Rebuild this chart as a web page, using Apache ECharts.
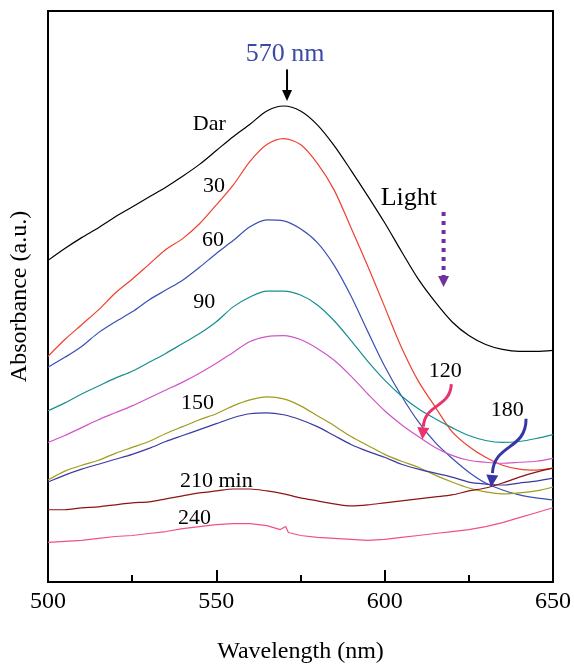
<!DOCTYPE html>
<html>
<head>
<meta charset="utf-8">
<title>UV-Vis absorption spectra</title>
<script src="https://cdn.jsdelivr.net/npm/echarts@6/dist/echarts.min.js"></script>
<style>
  html, body { margin: 0; padding: 0; background: #fff; }
  #chart { width: 574px; height: 669px; }
</style>
</head>
<body>
<div id="chart"></div>
<script>
// Wavelength sampling (nm) shared by most spectra
const wavelengths = [500, 505, 510, 515, 520, 525, 530, 535, 540, 545, 550, 555, 560, 565, 570,
                     575, 580, 585, 590, 595, 600, 605, 610, 615, 620, 625, 630, 635, 640, 645, 650];

// Absorbance (a.u.) after each irradiation time
const absDark = [0.650, 0.674, 0.696, 0.716, 0.738, 0.758, 0.778, 0.798, 0.820, 0.844, 0.872, 0.900, 0.925, 0.952, 0.962,
                 0.952, 0.924, 0.882, 0.832, 0.780, 0.726, 0.668, 0.612, 0.566, 0.526, 0.498, 0.480, 0.470, 0.466, 0.466, 0.468];
const abs30   = [0.456, 0.490, 0.520, 0.550, 0.584, 0.612, 0.642, 0.672, 0.694, 0.724, 0.762, 0.802, 0.850, 0.884, 0.896,
                 0.884, 0.846, 0.792, 0.716, 0.638, 0.556, 0.474, 0.406, 0.354, 0.304, 0.274, 0.252, 0.236, 0.228, 0.226, 0.230];
const abs60   = [0.434, 0.454, 0.476, 0.504, 0.526, 0.546, 0.570, 0.590, 0.610, 0.636, 0.664, 0.690, 0.718, 0.732, 0.730,
                 0.714, 0.686, 0.640, 0.578, 0.506, 0.436, 0.376, 0.324, 0.282, 0.250, 0.222, 0.200, 0.186, 0.176, 0.170, 0.166];
const abs90   = [0.346, 0.362, 0.380, 0.396, 0.412, 0.426, 0.444, 0.462, 0.482, 0.502, 0.526, 0.556, 0.576, 0.588, 0.588,
                 0.580, 0.560, 0.528, 0.488, 0.446, 0.408, 0.376, 0.350, 0.330, 0.312, 0.296, 0.286, 0.282, 0.284, 0.290, 0.298];
const abs120  = [0.282, 0.296, 0.312, 0.328, 0.342, 0.356, 0.372, 0.388, 0.404, 0.422, 0.442, 0.464, 0.486, 0.496, 0.498,
                 0.490, 0.472, 0.448, 0.416, 0.380, 0.346, 0.318, 0.294, 0.272, 0.256, 0.246, 0.242, 0.240, 0.242, 0.244, 0.250];
const abs150  = [0.206, 0.224, 0.236, 0.246, 0.260, 0.272, 0.284, 0.300, 0.314, 0.328, 0.340, 0.356, 0.368, 0.374, 0.370,
                 0.356, 0.336, 0.316, 0.294, 0.276, 0.258, 0.244, 0.232, 0.216, 0.202, 0.190, 0.182, 0.178, 0.180, 0.184, 0.192];
const abs180  = [0.202, 0.216, 0.228, 0.238, 0.248, 0.258, 0.270, 0.284, 0.296, 0.308, 0.320, 0.332, 0.340, 0.342, 0.338,
                 0.328, 0.314, 0.296, 0.278, 0.264, 0.252, 0.238, 0.228, 0.220, 0.212, 0.202, 0.198, 0.196, 0.200, 0.204, 0.210];
const abs210  = [0.146, 0.146, 0.150, 0.152, 0.156, 0.160, 0.162, 0.168, 0.174, 0.180, 0.184, 0.188, 0.188, 0.184, 0.178,
                 0.170, 0.164, 0.158, 0.154, 0.156, 0.160, 0.164, 0.168, 0.172, 0.176, 0.184, 0.190, 0.200, 0.212, 0.222, 0.230];

// The 240 min trace has a small glitch near 571 nm, so it keeps its own sampling
const wavelengths240 = [500, 505, 510, 515, 520, 525, 530, 535, 540, 545, 550, 555, 560, 565, 569, 570.6, 571.4,
                        575, 580, 585, 590, 595, 600, 605, 610, 615, 620, 625, 630, 635, 640, 645, 650];
const abs240  = [0.080, 0.082, 0.084, 0.088, 0.092, 0.094, 0.098, 0.102, 0.108, 0.112, 0.116, 0.118, 0.118, 0.114, 0.106, 0.112, 0.100,
                 0.094, 0.090, 0.088, 0.086, 0.084, 0.086, 0.090, 0.094, 0.098, 0.102, 0.106, 0.112, 0.120, 0.130, 0.140, 0.150];

const xTicks = [500, 550, 600, 650];

const seriesNames  = ['Dark', '30', '60', '90', '120', '150', '180', '210', '240'];
const seriesColors = ['#000000', '#f0402f', '#3b4fb5', '#168f8f', '#d254c8', '#a09c1c', '#3c3aa0', '#8e1414', '#f0508a'];
const seriesValues = [absDark, abs30, abs60, abs90, abs120, abs150, abs180, abs210, abs240];
const seriesX      = [wavelengths, wavelengths, wavelengths, wavelengths, wavelengths, wavelengths, wavelengths, wavelengths, wavelengths240];
const seriesSmooth = [0.3, 0.3, 0.3, 0.3, 0.3, 0.3, 0.3, 0.3, false];

// Curve annotations placed in data space: [text, wavelength, absorbance, size, colour]
const curveLabels = [
  ['Dar',     547.9, 0.926, 22, '#000'],
  ['30',      549.3, 0.800, 22, '#000'],
  ['60',      549.0, 0.690, 22, '#000'],
  ['90',      546.4, 0.566, 22, '#000'],
  ['120',     618.0, 0.426, 22, '#000'],
  ['150',     544.4, 0.362, 22, '#000'],
  ['180',     636.4, 0.348, 22, '#000'],
  ['210 min', 550.0, 0.204, 22, '#000'],
  ['240',     543.5, 0.128, 22, '#000'],
  ['Light',   607.2, 0.776, 26, '#000'],
  ['570 nm',  570.4, 1.066, 26, '#3b4ba5']
];

const SERIF = '"Liberation Serif", "Times New Roman", serif';

const chart = echarts.init(document.getElementById('chart'), null, { renderer: 'canvas' });

chart.setOption({
  animation: false,
  backgroundColor: '#fff',
  grid: {
    left: 46, right: 21, top: 11, bottom: 81,
    show: true, borderColor: '#000', borderWidth: 2, backgroundColor: 'transparent'
  },
  xAxis: {
    type: 'value',
    min: xTicks[0], max: xTicks[xTicks.length - 1], interval: 50,
    name: 'Wavelength (nm)', nameLocation: 'middle', nameGap: 58,
    nameTextStyle: { fontFamily: SERIF, fontSize: 24, color: '#000' },
    axisLine: { show: true, lineStyle: { color: '#000', width: 2 } },
    axisTick: { show: true, inside: true, length: 12, lineStyle: { color: '#000', width: 2 } },
    minorTick: { show: true, splitNumber: 2, length: 7, lineStyle: { color: '#000', width: 2 } },
    axisLabel: { fontFamily: SERIF, fontSize: 24, color: '#000', margin: 8 },
    splitLine: { show: false }
  },
  yAxis: {
    type: 'value', min: 0, max: 1.154,
    name: 'Absorbance (a.u.)', nameLocation: 'middle', nameGap: 16, nameRotate: 90,
    nameTextStyle: { fontFamily: SERIF, fontSize: 24, color: '#000' },
    axisLine: { show: true, lineStyle: { color: '#000', width: 2 } },
    axisTick: { show: false },
    axisLabel: { show: false },
    splitLine: { show: false }
  },
  series: seriesNames.map((name, i) => ({
    name: name,
    type: 'line',
    data: seriesX[i].map((w, k) => [w, seriesValues[i][k]]),
    symbol: 'none',
    smooth: seriesSmooth[i],
    lineStyle: { color: seriesColors[i], width: 1.2 },
    z: 3
  }))
});

// ---- annotations (text and arrows), anchored to data coordinates ----
const px = (w, a) => chart.convertToPixel({ gridIndex: 0 }, [w, a]);

function arrowHead(tip, from, len, half, color) {
  const dx = tip[0] - from[0], dy = tip[1] - from[1];
  const d = Math.hypot(dx, dy) || 1;
  const ux = dx / d, uy = dy / d;
  const bx = tip[0] - ux * len, by = tip[1] - uy * len;
  return {
    type: 'polygon', z: 10,
    shape: { points: [tip, [bx - uy * half, by + ux * half], [bx + uy * half, by - ux * half]] },
    style: { fill: color }
  };
}

const graphics = [];

curveLabels.forEach(([t, w, a, size, color]) => {
  const p = px(w, a);
  graphics.push({
    type: 'text', x: p[0], y: p[1], z: 10,
    style: { text: t, fontFamily: SERIF, fontSize: size, fill: color, align: 'center', verticalAlign: 'middle' }
  });
});

// Peak marker arrow at 570 nm
{
  const a = px(571.0, 1.036), b = px(571.0, 0.992), tip = px(571.0, 0.972);
  graphics.push({ type: 'line', z: 10, shape: { x1: a[0], y1: a[1], x2: b[0], y2: b[1] }, style: { stroke: '#000', lineWidth: 2 } });
  graphics.push(arrowHead(tip, a, 11, 5, '#000'));
}

// Dotted "Light" arrow
{
  const a = px(617.5, 0.748), b = px(617.5, 0.614), tip = px(617.5, 0.596);
  graphics.push({ type: 'line', z: 10, shape: { x1: a[0], y1: a[1], x2: b[0], y2: b[1] },
    style: { stroke: '#7030a0', lineWidth: 4, lineDash: [4, 5] } });
  graphics.push(arrowHead(tip, a, 11, 5.5, '#7030a0'));
}

// Curved pointer arrows for the 120 and 180 min traces
function curvedArrow(p0, c1, c2, p3, tip, color) {
  const P0 = px(...p0), C1 = px(...c1), C2 = px(...c2), P3 = px(...p3), T = px(...tip);
  graphics.push({
    type: 'bezierCurve', z: 10,
    shape: { x1: P0[0], y1: P0[1], cpx1: C1[0], cpy1: C1[1], cpx2: C2[0], cpy2: C2[1], x2: P3[0], y2: P3[1] },
    style: { stroke: color, lineWidth: 3, fill: null }
  });
  graphics.push(arrowHead(T, P3, 12, 6, color));
}
curvedArrow([619.8, 0.400], [619.5, 0.352], [611.8, 0.360], [611.5, 0.314], [611.2, 0.288], '#e8336d');
curvedArrow([642.0, 0.330], [642.0, 0.266], [632.5, 0.280], [632.0, 0.220], [631.7, 0.192], '#3636a6');

chart.setOption({ graphic: graphics });
</script>
</body>
</html>
